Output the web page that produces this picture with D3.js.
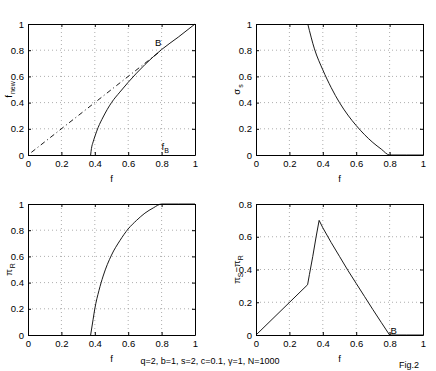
<!DOCTYPE html>
<html>
<head>
<meta charset="utf-8">
<script src="https://cdn.jsdelivr.net/npm/d3@7"></script>
<style>
body { margin: 0; background: #fff; }
svg text { font-family: "Liberation Sans", Arial, sans-serif; fill: #000; }
</style>
</head>
<body>
<div id="chart"></div>
<script>
// f_new vs f (solid) and the diagonal (dash-dot)
var fnewF = [0.375, 0.38, 0.39, 0.40, 0.42, 0.45, 0.5, 0.55, 0.6, 0.65, 0.7, 0.75, 0.8, 0.9, 1.0]
var fnewV = [0, 0.05, 0.10, 0.14, 0.21, 0.29, 0.40, 0.48, 0.555, 0.625, 0.69, 0.75, 0.805, 0.90, 1.0]
var diagF = [0.02, 0.78]
var diagV = [0.02, 0.78]

// sigma_s vs f
var sigF = [0.31, 0.35, 0.4, 0.45, 0.5, 0.55, 0.6, 0.65, 0.7, 0.75, 0.8, 0.9, 1.0]
var sigV = [1.0, 0.81, 0.65, 0.515, 0.40, 0.305, 0.225, 0.155, 0.095, 0.045, 0, 0, 0]

// pi_R vs f
var piRF = [0.375, 0.39, 0.4, 0.425, 0.45, 0.5, 0.55, 0.6, 0.65, 0.7, 0.75, 0.8, 0.9, 1.0]
var piRV = [0, 0.12, 0.20, 0.34, 0.45, 0.61, 0.72, 0.81, 0.875, 0.93, 0.97, 1.0, 1.0, 1.0]

// pi_S - pi_R vs f
var diffF = [0, 0.309, 0.32, 0.34, 0.36, 0.378, 0.4, 0.45, 0.5, 0.55, 0.6, 0.65, 0.7, 0.75, 0.8, 0.9, 1.0]
var diffV = [0, 0.307, 0.37, 0.48, 0.60, 0.70, 0.655, 0.565, 0.48, 0.395, 0.315, 0.235, 0.155, 0.077, 0, 0, 0]

var xTicks = [0, 0.2, 0.4, 0.6, 0.8, 1]
var yTicks1 = [0, 0.2, 0.4, 0.6, 0.8, 1]
var yTicks2 = [0, 0.2, 0.4, 0.6, 0.8]

var svg = d3.select("#chart").append("svg")
    .attr("width", 436)
    .attr("height", 371)

var panels = [
    {x0: 28, y0: 24, yMax: 1, yTicks: yTicks1, label: "f", sub: "new", series: [{f: fnewF, v: fnewV, smooth: true}, {f: diagF, v: diagV, dash: "5,3,1,3"}]},
    {x0: 256, y0: 24, yMax: 1, yTicks: yTicks1, label: "σ", sub: "s", series: [{f: sigF, v: sigV, smooth: true}]},
    {x0: 28, y0: 204, yMax: 1, yTicks: yTicks1, label: "π", sub: "R", series: [{f: piRF, v: piRV, smooth: true}]},
    {x0: 256, y0: 204, yMax: 0.8, yTicks: yTicks2, label: "diff", series: [{f: diffF, v: diffV}]}
]
var pw = 167, ph = 131

panels.forEach(function(p, k) {
    var g = svg.append("g").attr("transform", "translate(" + p.x0 + "," + p.y0 + ")")
    var x = d3.scaleLinear().domain([0, 1]).range([0, pw])
    var y = d3.scaleLinear().domain([0, p.yMax]).range([ph, 0])

    // grid
    g.selectAll(".gx").data(xTicks.slice(1, -1)).enter().append("line")
        .attr("x1", function(d) { return x(d) }).attr("x2", function(d) { return x(d) })
        .attr("y1", 0).attr("y2", ph)
        .attr("stroke", "#999").attr("stroke-width", 0.8).attr("stroke-dasharray", "1,3")
    g.selectAll(".gy").data(p.yTicks.slice(1).filter(function(d) { return d < p.yMax })).enter().append("line")
        .attr("y1", function(d) { return y(d) }).attr("y2", function(d) { return y(d) })
        .attr("x1", 0).attr("x2", pw)
        .attr("stroke", "#999").attr("stroke-width", 0.8).attr("stroke-dasharray", "1,3")

    // axes
    g.append("g").attr("transform", "translate(0," + ph + ")")
        .call(d3.axisBottom(x).tickValues(xTicks).tickFormat(d3.format("~g")).tickSizeInner(-3).tickSizeOuter(0).tickPadding(5))
    g.append("g")
        .call(d3.axisLeft(y).tickValues(p.yTicks).tickFormat(d3.format("~g")).tickSizeInner(-3).tickSizeOuter(0).tickPadding(4))
    g.append("g").call(d3.axisTop(x).tickValues(xTicks).tickFormat("").tickSizeInner(-3).tickSizeOuter(0))
    g.append("g").attr("transform", "translate(" + pw + ",0)")
        .call(d3.axisRight(y).tickValues(p.yTicks).tickFormat("").tickSizeInner(-3).tickSizeOuter(0))
    g.selectAll(".domain").attr("stroke", "#000")
    g.selectAll(".tick line").attr("stroke", "#000")
    g.selectAll(".tick text").attr("font-size", 9.5).attr("font-family", "Liberation Sans, Arial, sans-serif")

    // curves
    p.series.forEach(function(s) {
        var line = d3.line().x(function(d) { return x(d[0]) }).y(function(d) { return y(d[1]) })
            .curve(s.smooth ? d3.curveMonotoneX : d3.curveLinear)
        var pts = s.f.map(function(f, i) { return [f, s.v[i]] })
        g.append("path").datum(pts)
            .attr("d", line)
            .attr("fill", "none")
            .attr("stroke", "#000")
            .attr("stroke-width", 0.9)
            .attr("stroke-dasharray", s.dash || null)
    })

    // x label
    g.append("text").attr("x", pw / 2).attr("y", ph + 27)
        .attr("text-anchor", "middle").attr("font-size", 9.5).text("f")

    // y label
    var yl = g.append("text").attr("transform", "translate(-16," + (ph / 2) + ")rotate(-90)")
        .attr("text-anchor", "middle").attr("font-size", 9.5)
    if (p.label == "diff") {
        yl.append("tspan").text("π")
        yl.append("tspan").attr("font-size", 7).attr("dy", 3).text("S")
        yl.append("tspan").attr("dy", -3).text("−π")
        yl.append("tspan").attr("font-size", 7).attr("dy", 3).text("R")
    } else {
        yl.append("tspan").text(p.label)
        yl.append("tspan").attr("font-size", 7).attr("dy", 3).attr("dx", 1).text(p.sub)
    }

    if (k == 0) {
        g.append("text").attr("x", x(0.76)).attr("y", y(0.83)).attr("font-size", 9.5).text("B")
        var fb = g.append("text").attr("x", x(0.8)).attr("y", y(0.04)).attr("font-size", 9.5)
        fb.append("tspan").text("f")
        fb.append("tspan").attr("font-size", 7).attr("dy", 3).text("B")
    }
    if (k == 3) {
        g.append("text").attr("x", x(0.805)).attr("y", y(0.005)).attr("font-size", 9.5).text("B")
    }
})

svg.append("text").attr("x", 210).attr("y", 364).attr("text-anchor", "middle")
    .attr("font-size", 9).text("q=2, b=1, s=2, c=0.1, γ=1, N=1000")
svg.append("text").attr("x", 399).attr("y", 368)
    .attr("font-size", 9).text("Fig.2")
</script>
</body>
</html>
